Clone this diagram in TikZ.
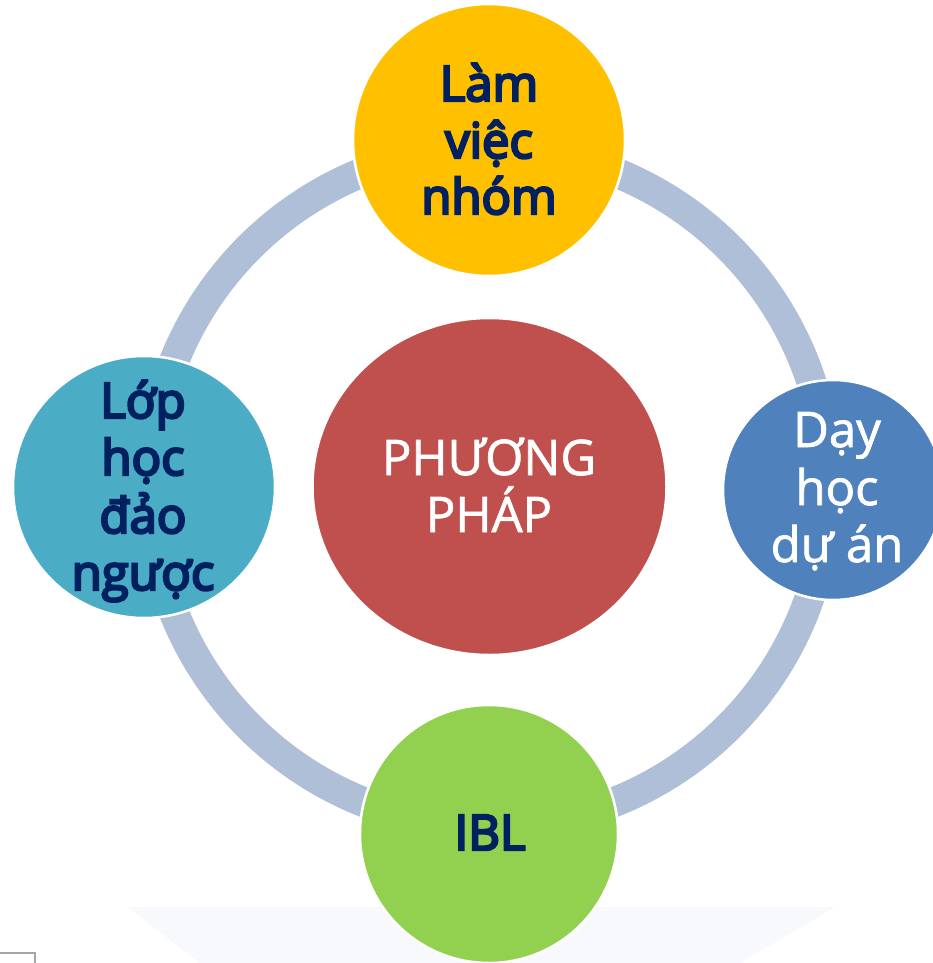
\documentclass[tikz,border=0pt]{standalone}
\usepackage{fontspec}
\setmainfont{Open Sans}
\newfontfamily\semibfont{Open Sans}[FakeBold=5]
\newfontfamily\regfont{Open Sans}[FakeBold=1.5]
\usetikzlibrary{shapes.geometric}
\definecolor{cyel}{HTML}{FFC000}
\definecolor{cblue}{HTML}{4F81BD}
\definecolor{cteal}{HTML}{4BACC6}
\definecolor{cgreen}{HTML}{92D050}
\definecolor{cred}{HTML}{C0504D}
\definecolor{cnavy}{HTML}{002060}
\definecolor{cring}{HTML}{AFBFD8}
\definecolor{cshade}{HTML}{F8F9FC}
\tikzset{
  bubble/.style={circle, draw=white, line width=2.5pt, inner sep=0pt},
  ringline/.style={draw=cring, line width=30pt},
  txt/.style={anchor=base, inner sep=0pt},
  darktxt/.style={txt, text=cnavy, font=\semibfont\fontsize{49}{57}\selectfont},
  lighttxt/.style={txt, text=white, font=\regfont\fontsize{49}{57}\selectfont},
}
\begin{document}
\begin{tikzpicture}[x=1pt,y=-1pt]
\useasboundingbox (0,0) rectangle (933,963);
% faint background shape
\fill[cshade] (127,907) -- (835,907) -- (740,963) -- (200,963) -- cycle;
\draw[gray!70, line width=1.2pt] (0,953) -- (35,953) -- (35,963);
% ring
\coordinate (c) at (489,487);
\draw[ringline] (c) circle[radius=339pt];
% circles
\node[bubble, fill=cyel, minimum size=272pt] (top) at (489,140) {};
\node[bubble, fill=cblue, minimum size=220pt] (right) at (833,490) {};
\node[bubble, fill=cteal, minimum size=262pt] (left) at (144,487) {};
\node[bubble, fill=cgreen, minimum size=258pt] (bottom) at (489,834) {};
\node[ellipse, draw=white, line width=2.5pt, inner sep=0pt, fill=cred,
      minimum width=354pt, minimum height=337pt] (center) at (489.5,486.5) {};
% texts
\node[darktxt] (t1) at (489,101) {Làm};
\node[darktxt] (t2) at (489,158) {việc};
\node[darktxt] (t3) at (489,214) {nhóm};
\node[lighttxt] (r1) at (837,447) {Dạy};
\node[lighttxt] (r2) at (837,505) {học};
\node[lighttxt] (r3) at (837,562) {dự án};
\node[lighttxt] (c1) at (489,475) {PHƯƠNG};
\node[lighttxt] (c2) at (489,532) {PHÁP};
\node[darktxt] (l1) at (143,418) {Lớp};
\node[darktxt] (l2) at (143,475) {học};
\node[darktxt] (l3) at (143,533) {đảo};
\node[darktxt] (l4) at (143,590) {ngược};
\node[darktxt] (b1) at (490,850) {IBL};
\end{tikzpicture}
\end{document}
